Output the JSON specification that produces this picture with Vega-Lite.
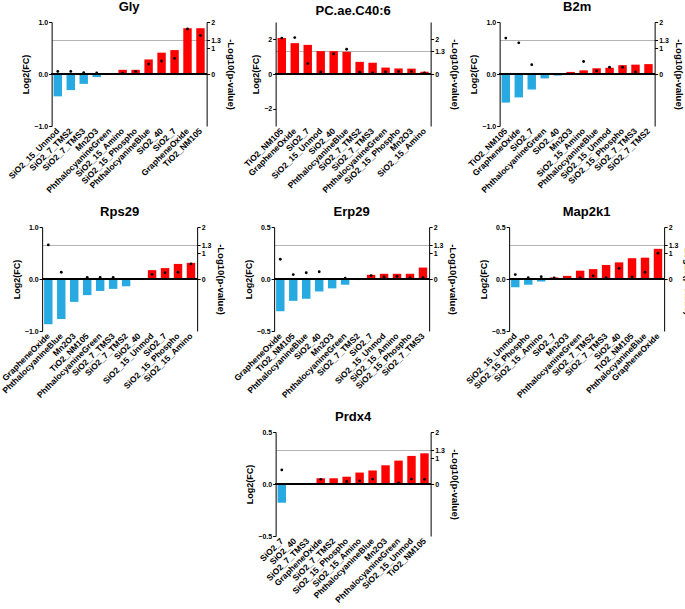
{
"$schema":"https://vega.github.io/schema/vega-lite/v6.json",
"padding":{"left":0,"top":1,"right":2,"bottom":0},
"data":{"values":[
{"g":"Gly","m":"SiO2_15_Unmod","fc":-0.43,"p":0.10,"r":1},
{"g":"Gly","m":"SiO2_7_TMS2","fc":-0.31,"p":0.10,"r":2},
{"g":"Gly","m":"SiO2_7_TMS3","fc":-0.19,"p":0.05,"r":3},
{"g":"Gly","m":"Mn2O3","fc":-0.06,"p":0.04,"r":4},
{"g":"Gly","m":"PhthalocyanineGreen","fc":0.003,"p":null,"r":5},
{"g":"Gly","m":"SiO2_15_Amino","fc":0.08,"p":0.03,"r":6},
{"g":"Gly","m":"SiO2_15_Phospho","fc":0.08,"p":0.10,"r":7},
{"g":"Gly","m":"PhthalocyanineBlue","fc":0.28,"p":0.38,"r":8},
{"g":"Gly","m":"SiO2_40","fc":0.41,"p":0.50,"r":9},
{"g":"Gly","m":"SiO2_7","fc":0.46,"p":0.60,"r":10},
{"g":"Gly","m":"GrapheneOxide","fc":0.88,"p":1.73,"r":11},
{"g":"Gly","m":"TiO2_NM105","fc":0.88,"p":1.48,"r":12},
{"g":"PC","m":"TiO2_NM105","fc":2.08,"p":2.07,"r":1},
{"g":"PC","m":"GrapheneOxide","fc":1.78,"p":2.1,"r":2},
{"g":"PC","m":"SiO2_7","fc":1.68,"p":0.6,"r":3},
{"g":"PC","m":"SiO2_15_Unmod","fc":1.32,"p":0.12,"r":4},
{"g":"PC","m":"SiO2_40","fc":1.32,"p":1.16,"r":5},
{"g":"PC","m":"PhthalocyanineBlue","fc":1.28,"p":1.43,"r":6},
{"g":"PC","m":"SiO2_7_TMS2","fc":0.70,"p":0.10,"r":7},
{"g":"PC","m":"SiO2_7_TMS3","fc":0.65,"p":0.06,"r":8},
{"g":"PC","m":"PhthalocyanineGreen","fc":0.37,"p":0.12,"r":9},
{"g":"PC","m":"SiO2_15_Phospho","fc":0.32,"p":0.15,"r":10},
{"g":"PC","m":"Mn2O3","fc":0.31,"p":0.15,"r":11},
{"g":"PC","m":"SiO2_15_Amino","fc":0.13,"p":0.06,"r":12},
{"g":"B2m","m":"TiO2_NM105","fc":-0.55,"p":1.38,"r":1},
{"g":"B2m","m":"GrapheneOxide","fc":-0.45,"p":1.20,"r":2},
{"g":"B2m","m":"SiO2_7","fc":-0.30,"p":0.36,"r":3},
{"g":"B2m","m":"PhthalocyanineGreen","fc":-0.085,"p":null,"r":4},
{"g":"B2m","m":"SiO2_40","fc":-0.03,"p":null,"r":5},
{"g":"B2m","m":"Mn2O3","fc":0.04,"p":null,"r":6},
{"g":"B2m","m":"SiO2_15_Amino","fc":0.07,"p":0.48,"r":7},
{"g":"B2m","m":"PhthalocyanineBlue","fc":0.11,"p":0.12,"r":8},
{"g":"B2m","m":"SiO2_15_Unmod","fc":0.12,"p":0.26,"r":9},
{"g":"B2m","m":"SiO2_15_Phospho","fc":0.17,"p":0.26,"r":10},
{"g":"B2m","m":"SiO2_7_TMS3","fc":0.18,"p":0.08,"r":11},
{"g":"B2m","m":"SiO2_7_TMS2","fc":0.19,"p":null,"r":12},
{"g":"Rps29","m":"GrapheneOxide","fc":-0.87,"p":1.31,"r":1},
{"g":"Rps29","m":"PhthalocyanineBlue","fc":-0.77,"p":0.26,"r":2},
{"g":"Rps29","m":"Mn2O3","fc":-0.44,"p":null,"r":3},
{"g":"Rps29","m":"TiO2_NM105","fc":-0.31,"p":0.06,"r":4},
{"g":"Rps29","m":"PhthalocyanineGreen","fc":-0.23,"p":0.06,"r":5},
{"g":"Rps29","m":"SiO2_7_TMS3","fc":-0.19,"p":0.06,"r":6},
{"g":"Rps29","m":"SiO2_7_TMS2","fc":-0.14,"p":null,"r":7},
{"g":"Rps29","m":"SiO2_40","fc":-0.005,"p":null,"r":8},
{"g":"Rps29","m":"SiO2_15_Unmod","fc":0.17,"p":0.18,"r":9},
{"g":"Rps29","m":"SiO2_7","fc":0.21,"p":0.24,"r":10},
{"g":"Rps29","m":"SiO2_15_Phospho","fc":0.29,"p":0.26,"r":11},
{"g":"Rps29","m":"SiO2_15_Amino","fc":0.31,"p":0.58,"r":12},
{"g":"Erp29","m":"GrapheneOxide","fc":-0.31,"p":0.76,"r":1},
{"g":"Erp29","m":"TiO2_NM105","fc":-0.21,"p":0.17,"r":2},
{"g":"Erp29","m":"PhthalocyanineBlue","fc":-0.19,"p":0.24,"r":3},
{"g":"Erp29","m":"SiO2_40","fc":-0.12,"p":0.28,"r":4},
{"g":"Erp29","m":"Mn2O3","fc":-0.09,"p":null,"r":5},
{"g":"Erp29","m":"PhthalocyanineGreen","fc":-0.055,"p":0.03,"r":6},
{"g":"Erp29","m":"SiO2_7_TMS2","fc":-0.01,"p":null,"r":7},
{"g":"Erp29","m":"SiO2_7","fc":0.04,"p":0.13,"r":8},
{"g":"Erp29","m":"SiO2_15_Unmod","fc":0.05,"p":0.08,"r":9},
{"g":"Erp29","m":"SiO2_15_Amino","fc":0.05,"p":0.10,"r":10},
{"g":"Erp29","m":"SiO2_15_Phospho","fc":0.05,"p":0.05,"r":11},
{"g":"Erp29","m":"SiO2_7_TMS3","fc":0.11,"p":0.05,"r":12},
{"g":"Map2k1","m":"SiO2_15_Unmod","fc":-0.08,"p":0.17,"r":1},
{"g":"Map2k1","m":"SiO2_15_Phospho","fc":-0.055,"p":0.05,"r":2},
{"g":"Map2k1","m":"SiO2_15_Amino","fc":-0.025,"p":0.09,"r":3},
{"g":"Map2k1","m":"SiO2_7","fc":0.015,"p":0.04,"r":4},
{"g":"Map2k1","m":"Mn2O3","fc":0.03,"p":null,"r":5},
{"g":"Map2k1","m":"PhthalocyanineGreen","fc":0.08,"p":0.04,"r":6},
{"g":"Map2k1","m":"SiO2_7_TMS2","fc":0.095,"p":0.12,"r":7},
{"g":"Map2k1","m":"SiO2_7_TMS3","fc":0.135,"p":0.05,"r":8},
{"g":"Map2k1","m":"SiO2_40","fc":0.16,"p":0.41,"r":9},
{"g":"Map2k1","m":"TiO2_NM105","fc":0.20,"p":0.08,"r":10},
{"g":"Map2k1","m":"PhthalocyanineBlue","fc":0.205,"p":0.26,"r":11},
{"g":"Map2k1","m":"GrapheneOxide","fc":0.29,"p":0.99,"r":12},
{"g":"Prdx4","m":"SiO2_7","fc":-0.18,"p":0.54,"r":1},
{"g":"Prdx4","m":"SiO2_40","fc":-0.005,"p":null,"r":2},
{"g":"Prdx4","m":"SiO2_7_TMS3","fc":0.005,"p":null,"r":3},
{"g":"Prdx4","m":"GrapheneOxide","fc":0.055,"p":0.18,"r":4},
{"g":"Prdx4","m":"SiO2_7_TMS2","fc":0.055,"p":null,"r":5},
{"g":"Prdx4","m":"SiO2_15_Phospho","fc":0.07,"p":0.10,"r":6},
{"g":"Prdx4","m":"SiO2_15_Amino","fc":0.11,"p":0.12,"r":7},
{"g":"Prdx4","m":"PhthalocyanineBlue","fc":0.13,"p":0.19,"r":8},
{"g":"Prdx4","m":"Mn2O3","fc":0.18,"p":null,"r":9},
{"g":"Prdx4","m":"PhthalocyanineGreen","fc":0.225,"p":0.04,"r":10},
{"g":"Prdx4","m":"SiO2_15_Unmod","fc":0.27,"p":0.19,"r":11},
{"g":"Prdx4","m":"TiO2_NM105","fc":0.295,"p":0.18,"r":12}
]},
"spacing":12,
"center":true,
"vconcat":[
{"spacing":6,"hconcat":[
{"title":"Gly","width":155,"height":104,"transform":[{"filter":"datum.g === 'Gly'"}],
"layer":[
{"layer":[
{"mark":{"type":"bar"},"encoding":{"x":{"field":"m","type":"nominal","sort":{"field":"r","op":"min"},"title":null,"scale":{"paddingInner":0.35,"paddingOuter":0.15}},"y":{"field":"fc","type":"quantitative","scale":{"domain":[-1,1]},"axis":{"orient":"left","title":"Log2(FC)","values":[-1,-0.5,0,0.5,1],"format":".1f","labelOverlap":false}},"color":{"condition":{"test":"datum.fc < 0","value":"#27aae1"},"value":"#ff0000"}}},
{"mark":{"type":"rule","color":"black","strokeWidth":1},"encoding":{"y":{"datum":0}}}
]},
{"mark":{"type":"point","filled":true,"color":"black","size":8,"opacity":1},"encoding":{"x":{"field":"m","type":"nominal","sort":{"field":"r","op":"min"},"title":null},"y":{"field":"p","type":"quantitative","scale":{"domain":[-2,2]},"axis":{"orient":"right","title":"-Log10(p-value)","values":[0,1,1.3,2],"labelExpr":"'' + datum.value","titleAngle":90,"titleFontSize":9.5,"titlePadding":5,"labelOverlap":false,"grid":true,"gridColor":"#b3b3b3","gridOpacity":{"condition":{"test":"datum.value == 1.3","value":1},"value":0}}}}}
],
"resolve":{"scale":{"y":"independent"}}},
{"title":"PC.ae.C40:6","width":155,"height":104,"transform":[{"filter":"datum.g === 'PC'"}],
"layer":[
{"layer":[
{"mark":{"type":"bar"},"encoding":{"x":{"field":"m","type":"nominal","sort":{"field":"r","op":"min"},"title":null,"scale":{"paddingInner":0.35,"paddingOuter":0.15}},"y":{"field":"fc","type":"quantitative","scale":{"domain":[-3,3]},"axis":{"orient":"left","title":"Log2(FC)","values":[-2,0,2],"format":"d","labelOverlap":false}},"color":{"condition":{"test":"datum.fc < 0","value":"#27aae1"},"value":"#ff0000"}}},
{"mark":{"type":"rule","color":"black","strokeWidth":1},"encoding":{"y":{"datum":0}}}
]},
{"mark":{"type":"point","filled":true,"color":"black","size":8,"opacity":1},"encoding":{"x":{"field":"m","type":"nominal","sort":{"field":"r","op":"min"},"title":null},"y":{"field":"p","type":"quantitative","scale":{"domain":[-3,3]},"axis":{"orient":"right","title":"-Log10(p-value)","values":[0,1.3,2],"labelExpr":"'' + datum.value","titleAngle":90,"titleFontSize":9.5,"titlePadding":5,"labelOverlap":false,"grid":true,"gridColor":"#b3b3b3","gridOpacity":{"condition":{"test":"datum.value == 1.3","value":1},"value":0}}}}}
],
"resolve":{"scale":{"y":"independent"}}},
{"title":"B2m","width":155,"height":104,"transform":[{"filter":"datum.g === 'B2m'"}],
"layer":[
{"layer":[
{"mark":{"type":"bar"},"encoding":{"x":{"field":"m","type":"nominal","sort":{"field":"r","op":"min"},"title":null,"scale":{"paddingInner":0.35,"paddingOuter":0.15}},"y":{"field":"fc","type":"quantitative","scale":{"domain":[-1,1]},"axis":{"orient":"left","title":"Log2(FC)","values":[-1,-0.5,0,0.5,1],"format":".1f","labelOverlap":false}},"color":{"condition":{"test":"datum.fc < 0","value":"#27aae1"},"value":"#ff0000"}}},
{"mark":{"type":"rule","color":"black","strokeWidth":1},"encoding":{"y":{"datum":0}}}
]},
{"mark":{"type":"point","filled":true,"color":"black","size":8,"opacity":1},"encoding":{"x":{"field":"m","type":"nominal","sort":{"field":"r","op":"min"},"title":null},"y":{"field":"p","type":"quantitative","scale":{"domain":[-2,2]},"axis":{"orient":"right","title":"-Log10(p-value)","values":[0,1,1.3,2],"labelExpr":"'' + datum.value","titleAngle":90,"titleFontSize":9.5,"titlePadding":5,"labelOverlap":false,"grid":true,"gridColor":"#b3b3b3","gridOpacity":{"condition":{"test":"datum.value == 1.3","value":1},"value":0}}}}}
],
"resolve":{"scale":{"y":"independent"}}}
]},
{"spacing":6,"hconcat":[
{"title":"Rps29","width":155,"height":104,"transform":[{"filter":"datum.g === 'Rps29'"}],
"layer":[
{"layer":[
{"mark":{"type":"bar"},"encoding":{"x":{"field":"m","type":"nominal","sort":{"field":"r","op":"min"},"title":null,"scale":{"paddingInner":0.35,"paddingOuter":0.15}},"y":{"field":"fc","type":"quantitative","scale":{"domain":[-1,1]},"axis":{"orient":"left","title":"Log2(FC)","values":[-1,-0.5,0,0.5,1],"format":".1f","labelOverlap":false}},"color":{"condition":{"test":"datum.fc < 0","value":"#27aae1"},"value":"#ff0000"}}},
{"mark":{"type":"rule","color":"black","strokeWidth":1},"encoding":{"y":{"datum":0}}}
]},
{"mark":{"type":"point","filled":true,"color":"black","size":8,"opacity":1},"encoding":{"x":{"field":"m","type":"nominal","sort":{"field":"r","op":"min"},"title":null},"y":{"field":"p","type":"quantitative","scale":{"domain":[-2,2]},"axis":{"orient":"right","title":"-Log10(p-value)","values":[0,1,1.3,2],"labelExpr":"'' + datum.value","titleAngle":90,"titleFontSize":9.5,"titlePadding":5,"labelOverlap":false,"grid":true,"gridColor":"#b3b3b3","gridOpacity":{"condition":{"test":"datum.value == 1.3","value":1},"value":0}}}}}
],
"resolve":{"scale":{"y":"independent"}}},
{"title":"Erp29","width":155,"height":104,"transform":[{"filter":"datum.g === 'Erp29'"}],
"layer":[
{"layer":[
{"mark":{"type":"bar"},"encoding":{"x":{"field":"m","type":"nominal","sort":{"field":"r","op":"min"},"title":null,"scale":{"paddingInner":0.35,"paddingOuter":0.15}},"y":{"field":"fc","type":"quantitative","scale":{"domain":[-0.5,0.5]},"axis":{"orient":"left","title":"Log2(FC)","values":[-0.5,0,0.5],"format":".1f","labelOverlap":false}},"color":{"condition":{"test":"datum.fc < 0","value":"#27aae1"},"value":"#ff0000"}}},
{"mark":{"type":"rule","color":"black","strokeWidth":1},"encoding":{"y":{"datum":0}}}
]},
{"mark":{"type":"point","filled":true,"color":"black","size":8,"opacity":1},"encoding":{"x":{"field":"m","type":"nominal","sort":{"field":"r","op":"min"},"title":null},"y":{"field":"p","type":"quantitative","scale":{"domain":[-2,2]},"axis":{"orient":"right","title":"-Log10(p-value)","values":[0,1,1.3,2],"labelExpr":"'' + datum.value","titleAngle":90,"titleFontSize":9.5,"titlePadding":5,"labelOverlap":false,"grid":true,"gridColor":"#b3b3b3","gridOpacity":{"condition":{"test":"datum.value == 1.3","value":1},"value":0}}}}}
],
"resolve":{"scale":{"y":"independent"}}},
{"title":"Map2k1","width":155,"height":104,"transform":[{"filter":"datum.g === 'Map2k1'"}],
"layer":[
{"layer":[
{"mark":{"type":"bar"},"encoding":{"x":{"field":"m","type":"nominal","sort":{"field":"r","op":"min"},"title":null,"scale":{"paddingInner":0.35,"paddingOuter":0.15}},"y":{"field":"fc","type":"quantitative","scale":{"domain":[-0.5,0.5]},"axis":{"orient":"left","title":"Log2(FC)","values":[-0.5,0,0.5],"format":".1f","labelOverlap":false}},"color":{"condition":{"test":"datum.fc < 0","value":"#27aae1"},"value":"#ff0000"}}},
{"mark":{"type":"rule","color":"black","strokeWidth":1},"encoding":{"y":{"datum":0}}}
]},
{"mark":{"type":"point","filled":true,"color":"black","size":8,"opacity":1},"encoding":{"x":{"field":"m","type":"nominal","sort":{"field":"r","op":"min"},"title":null},"y":{"field":"p","type":"quantitative","scale":{"domain":[-2,2]},"axis":{"orient":"right","title":"-Log10(p-value)","values":[0,1,1.3,2],"labelExpr":"'' + datum.value","titleAngle":90,"titleFontSize":9.5,"titlePadding":5,"labelOverlap":false,"grid":true,"gridColor":"#b3b3b3","gridOpacity":{"condition":{"test":"datum.value == 1.3","value":1},"value":0}}}}}
],
"resolve":{"scale":{"y":"independent"}}}
]},
{"hconcat":[
{"title":"Prdx4","width":155,"height":104,"transform":[{"filter":"datum.g === 'Prdx4'"}],
"layer":[
{"layer":[
{"mark":{"type":"bar"},"encoding":{"x":{"field":"m","type":"nominal","sort":{"field":"r","op":"min"},"title":null,"scale":{"paddingInner":0.35,"paddingOuter":0.15}},"y":{"field":"fc","type":"quantitative","scale":{"domain":[-0.5,0.5]},"axis":{"orient":"left","title":"Log2(FC)","values":[-0.5,0,0.5],"format":".1f","labelOverlap":false}},"color":{"condition":{"test":"datum.fc < 0","value":"#27aae1"},"value":"#ff0000"}}},
{"mark":{"type":"rule","color":"black","strokeWidth":1},"encoding":{"y":{"datum":0}}}
]},
{"mark":{"type":"point","filled":true,"color":"black","size":8,"opacity":1},"encoding":{"x":{"field":"m","type":"nominal","sort":{"field":"r","op":"min"},"title":null},"y":{"field":"p","type":"quantitative","scale":{"domain":[-2,2]},"axis":{"orient":"right","title":"-Log10(p-value)","values":[0,1,1.3,2],"labelExpr":"'' + datum.value","titleAngle":90,"titleFontSize":9.5,"titlePadding":5,"labelOverlap":false,"grid":true,"gridColor":"#b3b3b3","gridOpacity":{"condition":{"test":"datum.value == 1.3","value":1},"value":0}}}}}
],
"resolve":{"scale":{"y":"independent"}}}
]}
],
"config":{
"view":{"stroke":null},
"font":"Liberation Sans",
"axis":{"labelFont":"Liberation Sans","labelFontWeight":"bold","labelFontSize":7,"labelColor":"black","titleFont":"Liberation Sans","titleFontWeight":"bold","titleFontSize":9,"titleColor":"black","domainColor":"black","tickColor":"black","grid":false,"tickSize":3,"labelPadding":1,"titlePadding":3,"labelOverlap":false},
"axisX":{"labelAngle":-45,"domain":false,"ticks":false,"labelFontSize":8.5,"labelPadding":3,"labelAlign":"right","labelBaseline":"middle"},
"title":{"font":"Liberation Sans","fontSize":13,"fontWeight":"bold","color":"black","offset":4}
}
}
